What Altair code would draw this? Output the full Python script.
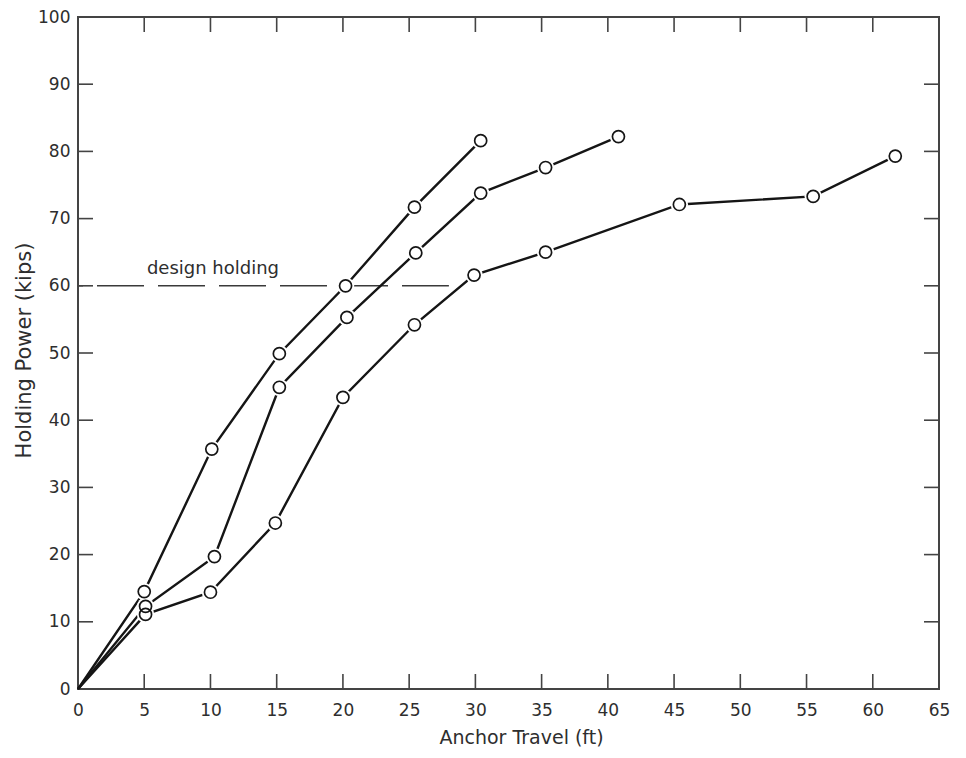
import altair as alt
import pandas as pd

# ---- data ----
a_x = [0, 5.0, 10.1, 15.2, 20.2, 25.4, 30.4]
a_y = [0, 14.5, 35.7, 49.9, 60.0, 71.7, 81.6]

b_x = [0, 5.1, 10.3, 15.2, 20.3, 25.5, 30.4, 35.3, 40.8]
b_y = [0, 12.3, 19.7, 44.9, 55.3, 64.9, 73.8, 77.6, 82.2]

c_x = [0, 5.1, 10.0, 14.9, 20.0, 25.4, 29.9, 35.3, 45.4, 55.5, 61.7]
c_y = [0, 11.1, 14.4, 24.7, 43.4, 54.2, 61.6, 65.0, 72.1, 73.3, 79.3]

x_tick_labels = list(range(0, 70, 5))
y_tick_labels = list(range(0, 110, 10))
x_inner_ticks = list(range(5, 65, 5))
y_inner_ticks = list(range(10, 100, 10))

design_x = [0, 28.0]
design_y = [60, 60]
design_label = ["design holding"]
design_label_x = [5.2]
design_label_y = [61.8]

W, H = 861, 672
TICK = 15
INK = "#151515"
FRAME = "#444444"
TEXT = "#2e2e2e"
FONT = "DejaVu Sans"

rows = []
for name, xs, ys in (("A", a_x, a_y), ("B", b_x, b_y), ("C", c_x, c_y)):
    for i, (xv, yv) in enumerate(zip(xs, ys)):
        rows.append({"series": name, "x": xv, "y": yv, "i": i})
df = pd.DataFrame(rows)
pts = df[df["i"] > 0]

xscale = alt.Scale(domain=[0, 65], nice=False, zero=False)
yscale = alt.Scale(domain=[0, 100], nice=False, zero=False)

x_axis = alt.Axis(values=x_tick_labels, title="Anchor Travel (ft)", labelPadding=13,
                  labelFlush=False, titleX=443, titleY=54, titleBaseline="alphabetic",
                  titleAlign="center", titleFontSize=19)
y_axis = alt.Axis(values=y_tick_labels, title="Holding Power (kips)", labelPadding=8,
                  titleX=-48, titleY=333, titleAngle=270, titleBaseline="alphabetic",
                  titleAlign="center", titleFontSize=21)


def X(field):
    return alt.X(field, scale=xscale, axis=x_axis)


def Y(field):
    return alt.Y(field, scale=yscale, axis=y_axis)


# dashed design-holding line
design = alt.Chart(pd.DataFrame({"x": design_x, "y": design_y})).mark_line(
    color="#3a3a3a", strokeWidth=1.6, strokeDash=[47, 14], strokeDashOffset=42
).encode(x=X("x:Q"), y=Y("y:Q"))

design_text = alt.Chart(pd.DataFrame({"x": design_label_x, "y": design_label_y,
                                      "t": design_label})).mark_text(
    align="left", baseline="alphabetic", font=FONT, fontSize=18, color=TEXT
).encode(x=X("x:Q"), y=Y("y:Q"), text="t:N")

lines = alt.Chart(df).mark_line(color=INK, strokeWidth=2.4).encode(
    x=X("x:Q"), y=Y("y:Q"), detail="series:N", order="i:Q",
)

halo = alt.Chart(pts).mark_point(shape="circle", filled=True, color="white",
                                 opacity=1, size=300).encode(x=X("x:Q"), y=Y("y:Q"))

circles = alt.Chart(pts).mark_point(shape="circle", filled=False, color=INK,
                                    strokeWidth=1.7, opacity=1, size=145).encode(
    x=X("x:Q"), y=Y("y:Q"))

xt = pd.DataFrame({"t": x_inner_ticks})
yt = pd.DataFrame({"t": y_inner_ticks})
tick_style = dict(color=FRAME, strokeWidth=1.6)

bottom_ticks = alt.Chart(xt).mark_rule(**tick_style).encode(
    x=X("t:Q"), y=alt.value(H), y2=alt.value(H - TICK))
top_ticks = alt.Chart(xt).mark_rule(**tick_style).encode(
    x=X("t:Q"), y=alt.value(0), y2=alt.value(TICK))
left_ticks = alt.Chart(yt).mark_rule(**tick_style).encode(
    y=Y("t:Q"), x=alt.value(0), x2=alt.value(TICK))
right_ticks = alt.Chart(yt).mark_rule(**tick_style).encode(
    y=Y("t:Q"), x=alt.value(W), x2=alt.value(W - TICK))

chart = alt.layer(
    design, bottom_ticks, top_ticks, left_ticks, right_ticks,
    lines, halo, circles, design_text
).properties(
    width=W, height=H,
    padding={"left": 70, "top": 9, "right": 15, "bottom": 59},
    autosize=alt.AutoSizeParams(type="none"),
    background="white",
).configure_view(
    stroke=FRAME, strokeWidth=2
).configure_axis(
    domain=False, ticks=False, grid=False,
    labelFont=FONT, titleFont=FONT, labelFontSize=17,
    labelColor=TEXT, titleColor=TEXT, titleFontWeight="normal",
)

chart.save("out.html", embed_options={"renderer": "svg", "actions": False})
